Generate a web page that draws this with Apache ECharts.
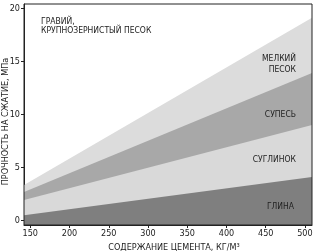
<!DOCTYPE html>
<html><head><meta charset="utf-8">
<script src="https://cdn.jsdelivr.net/npm/echarts@6/dist/echarts.min.js"></script>
<style>html,body{margin:0;padding:0;background:#fff}#c{width:313px;height:251px}</style>
</head><body><div id="c"></div>
<script>
// x positions at the left and right edge of the plot (kg/m³)
const cementX = [142, 509];
// boundary lines of each soil zone (MPa) at those x positions
const sandFineTop = [3.35, 19.1];
const sandyLoamTop = [2.7, 13.9];
const loamTop = [1.93, 9.0];
const clayTop = [0.5, 4.1];
const xTicks = [150, 200, 250, 300, 350, 400, 450, 500];
const yTicks = [0, 5, 10, 15, 20];

const font = 'DejaVu Sans Condensed';
const tf = '8.5px "' + font + '"';
const chart = echarts.init(document.getElementById('c'));
function mk(name, vals, color) {
  return {
    name, type: 'line', data: cementX.map((x, i) => [x, vals[i]]),
    symbol: 'none', lineStyle: { width: 0 }, silent: true, animation: false,
    areaStyle: { color, opacity: 1, origin: 'start' }
  };
}
chart.setOption({
  animation: false,
  grid: { left: 24, right: 1, top: 4, bottom: 26, containLabel: false, outerBoundsMode: 'none', show: true, borderColor: '#222', borderWidth: 1, backgroundColor: 'transparent', z: 10 },
  xAxis: {
    type: 'value', min: 142, max: 509,
    name: 'СОДЕРЖАНИЕ ЦЕМЕНТА, КГ/М³', nameLocation: 'middle', nameGap: 18, nameMoveOverlap: false,
    nameTextStyle: { fontFamily: font, fontSize: 9, color: '#222', padding: [0, 0, 0, 12] },
    axisLine: { show: true, onZero: false, lineStyle: { color: '#222' } },
    axisTick: { show: true, length: 3, customValues: xTicks, lineStyle: { color: '#222' } },
    axisLabel: { customValues: xTicks, fontFamily: font, fontSize: 9, color: '#222', margin: 4 },
    splitLine: { show: false }
  },
  yAxis: {
    type: 'value', min: -0.42, max: 20.4,
    name: 'ПРОЧНОСТЬ НА СЖАТИЕ, МПа', nameLocation: 'middle', nameGap: 14, nameMoveOverlap: false, nameRotate: 90,
    nameTextStyle: { fontFamily: font, fontSize: 9, color: '#222', padding: [0, 14, 0, 0] },
    axisLine: { show: true, onZero: false, lineStyle: { color: '#222' } },
    axisTick: { show: true, length: 3, customValues: yTicks, lineStyle: { color: '#222' } },
    axisLabel: { customValues: yTicks, fontFamily: font, fontSize: 9, color: '#222', margin: 4 },
    splitLine: { show: false }
  },
  series: [
    mk('МЕЛКИЙ ПЕСОК', sandFineTop, '#dcdcdc'),
    mk('СУПЕСЬ', sandyLoamTop, '#a8a8a8'),
    mk('СУГЛИНОК', loamTop, '#d9d9d9'),
    mk('ГЛИНА', clayTop, '#7f7f7f')
  ],
  graphic: [
    { type: 'text', z: 100, x: 41, y: 17, style: { text: 'ГРАВИЙ,\nКРУПНОЗЕРНИСТЫЙ ПЕСОК', font: tf, fill: '#222', lineHeight: 9 } },
    { type: 'text', z: 100, x: 296, y: 53, style: { text: 'МЕЛКИЙ\nПЕСОК', font: tf, fill: '#222', align: 'right', lineHeight: 11.5 } },
    { type: 'text', z: 100, x: 296, y: 110, style: { text: 'СУПЕСЬ', font: tf, fill: '#222', align: 'right' } },
    { type: 'text', z: 100, x: 296, y: 155, style: { text: 'СУГЛИНОК', font: tf, fill: '#222', align: 'right' } },
    { type: 'text', z: 100, x: 294, y: 202, style: { text: 'ГЛИНА', font: tf, fill: '#222', align: 'right' } }
  ]
});
</script></body></html>
